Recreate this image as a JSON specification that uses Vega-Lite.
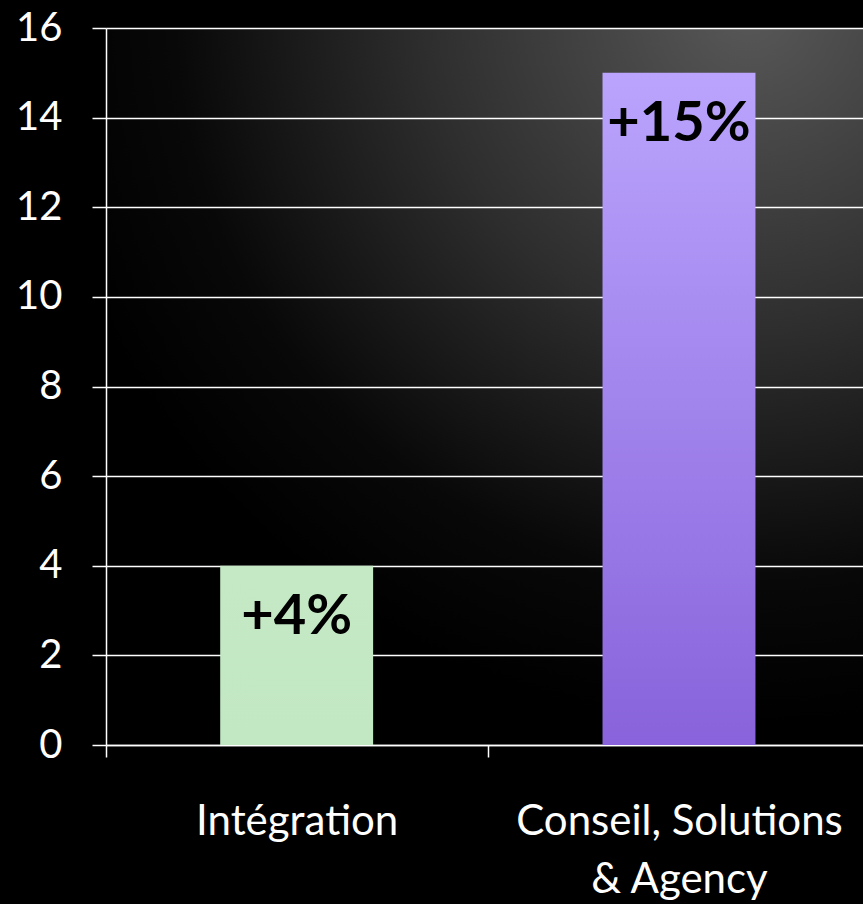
{
  "$schema": "https://vega.github.io/schema/vega-lite/v6.json",
  "autosize": {"type": "none"},
  "padding": {"left": 106, "top": 28, "right": 0, "bottom": 159},
  "width": 757,
  "height": 717,
  "background": "#000000",
  "config": {
    "view": {
      "stroke": null,
      "fill": {
        "gradient": "radial",
        "x1": 0.85, "y1": 0.0, "r1": 0,
        "x2": 0.85, "y2": 0.0, "r2": 0.95,
        "stops": [
          {"offset": 0, "color": "#585858"},
          {"offset": 0.45, "color": "#2e2e2e"},
          {"offset": 0.8, "color": "#080808"},
          {"offset": 1, "color": "#000000"}
        ]
      }
    },
    "font": "Lato"
  },
  "data": {
    "values": [
      {"segment": "Intégration", "value": 4, "label": "+4%"},
      {"segment": "Conseil, Solutions & Agency", "value": 15, "label": "+15%"}
    ]
  },
  "encoding": {
    "x": {
      "field": "segment",
      "type": "nominal",
      "sort": null,
      "scale": {"paddingInner": 0.6, "paddingOuter": 0.29, "align": 0.515},
      "axis": {
        "title": null,
        "labelAngle": 0,
        "labelFont": "Lato",
        "labelFontSize": 42,
        "labelColor": "#ffffff",
        "labelPadding": 44,
        "labelLineHeight": 58,
        "labelBaseline": "top",
        "labelLimit": 0,
        "labelOverlap": false,
        "labelBound": false,
        "labelFlush": false,
        "labelOffset": 191,
        "labelExpr": "datum.label == 'Conseil, Solutions & Agency' ? ['Conseil, Solutions', '& Agency'] : datum.label",
        "domainColor": "#ffffff",
        "domainWidth": 1.5,
        "tickColor": "#ffffff",
        "tickWidth": 1.5,
        "tickSize": 12,
        "tickOffset": -191,
        "grid": false
      }
    },
    "y": {
      "field": "value",
      "type": "quantitative",
      "scale": {"domain": [0, 16], "nice": false},
      "axis": {
        "title": null,
        "values": [0, 2, 4, 6, 8, 10, 12, 14, 16],
        "labelFont": "Lato",
        "labelFontSize": 40,
        "labelColor": "#ffffff",
        "labelPadding": 30,
        "domainColor": "#ffffff",
        "domainWidth": 1.5,
        "tickColor": "#ffffff",
        "tickWidth": 1.5,
        "tickSize": 14,
        "grid": true,
        "gridColor": "#ffffff",
        "gridWidth": 1.5,
        "gridOpacity": 1
      }
    }
  },
  "layer": [
    {
      "transform": [{"filter": "datum.segment == 'Intégration'"}],
      "mark": {
        "type": "bar",
        "color": {
          "gradient": "linear",
          "x1": 0, "y1": 0, "x2": 0, "y2": 1,
          "stops": [
            {"offset": 0, "color": "#c4e9c4"},
            {"offset": 1, "color": "#c2e8c3"}
          ]
        }
      }
    },
    {
      "transform": [{"filter": "datum.segment != 'Intégration'"}],
      "mark": {
        "type": "bar",
        "color": {
          "gradient": "linear",
          "x1": 0, "y1": 0, "x2": 0, "y2": 1,
          "stops": [
            {"offset": 0, "color": "#baa4fd"},
            {"offset": 1, "color": "#8863db"}
          ]
        }
      }
    },
    {
      "mark": {
        "type": "text",
        "font": "Lato",
        "fontWeight": "bold",
        "fontSize": 56,
        "color": "#000000",
        "baseline": "middle",
        "align": "center",
        "dy": 51
      },
      "encoding": {"text": {"field": "label"}}
    }
  ]
}
